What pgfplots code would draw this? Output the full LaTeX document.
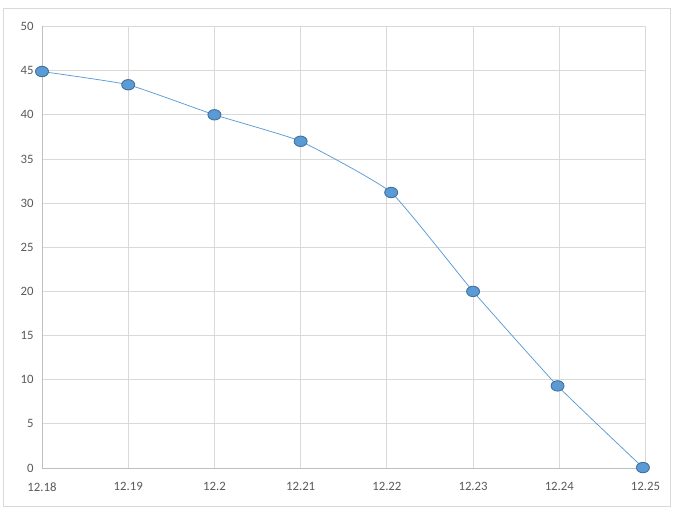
\documentclass[border=0pt]{standalone}
\usepackage{pgfplots}
\pgfplotsset{compat=1.18}
\usepackage{fontspec}
\setmainfont{Carlito}
\definecolor{ser}{HTML}{5B9BD5}
\definecolor{serdark}{HTML}{41719C}
\definecolor{gridc}{HTML}{D9D9D9}
\definecolor{axc}{HTML}{BFBFBF}
\definecolor{txt}{HTML}{595959}
\begin{document}
\begin{tikzpicture}
\path[use as bounding box] (0bp,0bp) rectangle (681bp,519bp);
\draw[gridc, line width=0.75bp] (3.3bp,12.3bp) rectangle (670.7bp,510.7bp);
\begin{axis}[
  at={(42bp,51bp)}, anchor=south west,
  scale only axis, width=603.5bp, height=441.5bp,
  xmin=12.18, xmax=12.25, ymin=0, ymax=50,
  xtick={12.18,12.19,12.2,12.21,12.22,12.23,12.24,12.25},
  xticklabels={12.18,12.19,12.2,12.21,12.22,12.23,12.24,12.25},
  ytick={0,5,10,15,20,25,30,35,40,45,50},
  /pgf/number format/assume math mode=true,
  ticklabel style={font=\fontsize{12.8}{14}\selectfont, text=txt},
  xticklabel style={yshift=-11bp},
  yticklabel style={xshift=-5bp},
  major tick length=0pt,
  grid=major,
  major grid style={gridc, line width=0.75bp},
  axis line style={gridc, line width=0.75bp},
  clip=false,
]
\addplot[ser, line width=0.75bp, smooth, tension=0.25,
  mark=*, mark size=5.2bp,
  mark options={fill=ser, draw=serdark, line width=0.9bp, xscale=1.25, solid}]
  coordinates {
  (12.18,44.9) (12.19,43.4) (12.2,40.0) (12.21,37.0) (12.2205,31.2)
  (12.23,20.0) (12.2398,9.3) (12.2497,0.05)
};
\draw[axc, line width=0.75bp] (rel axis cs:0,0) -- (rel axis cs:0,1);
\draw[axc, line width=0.75bp] (rel axis cs:0,0) -- (rel axis cs:1,0);
\end{axis}
\end{tikzpicture}
\end{document}
